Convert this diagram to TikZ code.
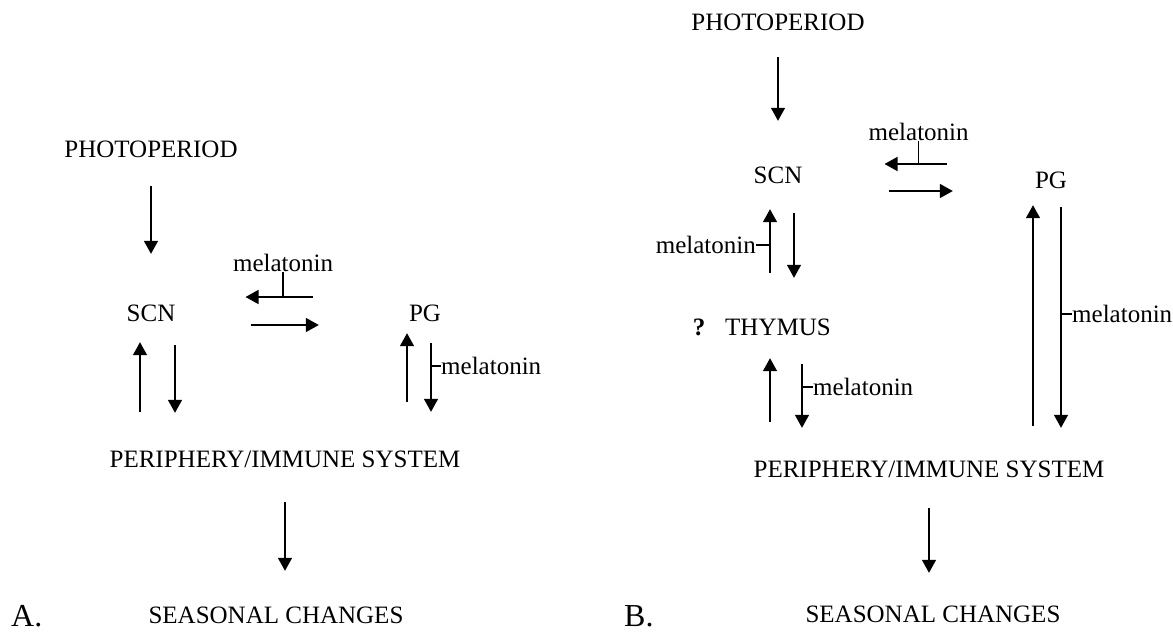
\documentclass[tikz,border=0pt]{standalone}
\usepackage{fontspec}
\setmainfont{Liberation Serif}
\usetikzlibrary{arrows.meta}

\tikzset{
  lbl/.style={inner sep=0pt,text height=16pt,text depth=0pt},
  mel/.style={inner sep=0pt,font=\fontsize{25}{28}\selectfont},
  panel/.style={inner sep=0pt,anchor=base west,font=\fontsize{32}{36}\selectfont},
  arr/.style={line width=1.5pt,-{Triangle[width=14pt,length=13pt]}},
  tick/.style={line width=1.5pt}
}

\begin{document}
\begin{tikzpicture}[x=1pt,y=-1pt,font=\fontsize{25}{28}\selectfont]
    \useasboundingbox (0,0) rectangle (1173,633);

    \node[lbl] (photoA) at (151,149) {PHOTOPERIOD};
    \node[lbl] (scnA) at (151,313) {SCN};
    \node[lbl] (pgA) at (425,313) {PG};
    \node[lbl] (perA) at (285,459) {PERIPHERY/IMMUNE SYSTEM};
    \node[lbl] (seaA) at (276,615) {SEASONAL CHANGES};
    \node[panel] (labA) at (11,626) {A.};

    \draw[arr,shorten <=29pt,shorten >=51pt] (photoA.south) -- (scnA.north);
    \draw[arr,shorten <=96pt,shorten >=70pt] ([yshift=16pt]pgA.west) -- coordinate[pos=.539] (kA1) ([yshift=16pt]scnA.east);
    \node[mel,anchor=south] (melA1) at ([yshift=25pt]kA1) {melatonin};
    \draw[tick] (melA1.south) -- (kA1);
    \draw[arr,shorten <=75pt,shorten >=90pt] ([yshift=-12pt]scnA.east) -- ([yshift=-12pt]pgA.west);
    \draw[arr,shorten <=39pt,shorten >=21pt] ([xshift=-11pt]scnA.south |- perA.north) -- ([xshift=-11pt]scnA.south);
    \draw[arr,shorten <=24pt,shorten >=38pt] ([xshift=24pt]scnA.south) -- ([xshift=24pt]scnA.south |- perA.north);
    \draw[arr,shorten <=49pt,shorten >=12pt] ([xshift=-18pt]pgA.south |- perA.north) -- ([xshift=-18pt]pgA.south);
    \draw[arr,shorten <=22pt,shorten >=39pt] ([xshift=6pt]pgA.south) -- coordinate[pos=.346] (kA2) ([xshift=6pt]pgA.south |- perA.north);
    \node[mel,anchor=west] (melA2) at ([xshift=10pt]kA2) {melatonin};
    \draw[tick] (kA2) -- (melA2.west);
    \draw[arr,shorten <=35pt,shorten >=36pt] (perA.south) -- (perA.south |- seaA.north);

    \node[lbl] (photoB) at (778,22) {PHOTOPERIOD};
    \node[lbl] (scnB) at (778,175) {SCN};
    \node[lbl] (pgB) at (1051,180) {PG};
    \node[lbl] (thyB) at (778,327) {THYMUS};
    \node[lbl] (qB) at (699,327) {\textbf{?}};
    \node[lbl] (perB) at (929,469) {PERIPHERY/IMMUNE SYSTEM};
    \node[lbl] (seaB) at (933,614) {SEASONAL CHANGES};
    \node[panel] (labB) at (624,626) {B.};

    \draw[arr,shorten <=27pt,shorten >=46pt] (photoB.south) -- (scnB.north);
    \draw[arr,shorten <=88pt,shorten >=82pt] ([yshift=11pt]scnB.east -| pgB.west) -- coordinate[pos=.5] (kB1) ([yshift=11pt]scnB.east);
    \node[mel,anchor=south] (melB1) at ([yshift=23pt]kB1) {melatonin};
    \draw[tick] (melB1.south) -- (kB1);
    \draw[arr,shorten <=86pt,shorten >=82pt] ([yshift=-16pt]scnB.east) -- ([yshift=-16pt]scnB.east -| pgB.west);
    \draw[arr,shorten <=46pt,shorten >=26pt] ([xshift=-8pt]scnB.south |- thyB.north) -- coordinate[pos=.544] (kB2) ([xshift=-8pt]scnB.south);
    \node[mel,anchor=east] (melB2) at ([xshift=-14pt]kB2) {melatonin};
    \draw[tick] (kB2) -- (melB2.east);
    \draw[arr,shorten <=30pt,shorten >=41pt] ([xshift=16pt]scnB.south) -- ([xshift=16pt]scnB.south |- thyB.north);
    \draw[arr,shorten <=39pt,shorten >=23pt] ([xshift=-8pt]thyB.south |- perB.north) -- ([xshift=-8pt]thyB.south);
    \draw[arr,shorten <=29pt,shorten >=33pt] ([xshift=24pt]thyB.south) -- coordinate[pos=.413] (kB3) ([xshift=24pt]thyB.south |- perB.north);
    \node[mel,anchor=west] (melB3) at ([xshift=11pt]kB3) {melatonin};
    \draw[tick] (kB3) -- (melB3.west);
    \draw[arr,shorten <=35pt,shorten >=17pt] ([xshift=-18pt]pgB.south |- perB.north) -- ([xshift=-18pt]pgB.south);
    \draw[arr,shorten <=19pt,shorten >=33pt] ([xshift=10pt]pgB.south) -- coordinate[pos=.4615] (kB4) ([xshift=10pt]pgB.south |- perB.north);
    \node[mel,anchor=west] (melB4) at ([xshift=11pt]kB4) {melatonin};
    \draw[tick] (kB4) -- (melB4.west);
    \draw[arr,shorten <=31pt,shorten >=33pt] (perB.south) -- (perB.south |- seaB.north);
  \end{tikzpicture}
\end{document}
